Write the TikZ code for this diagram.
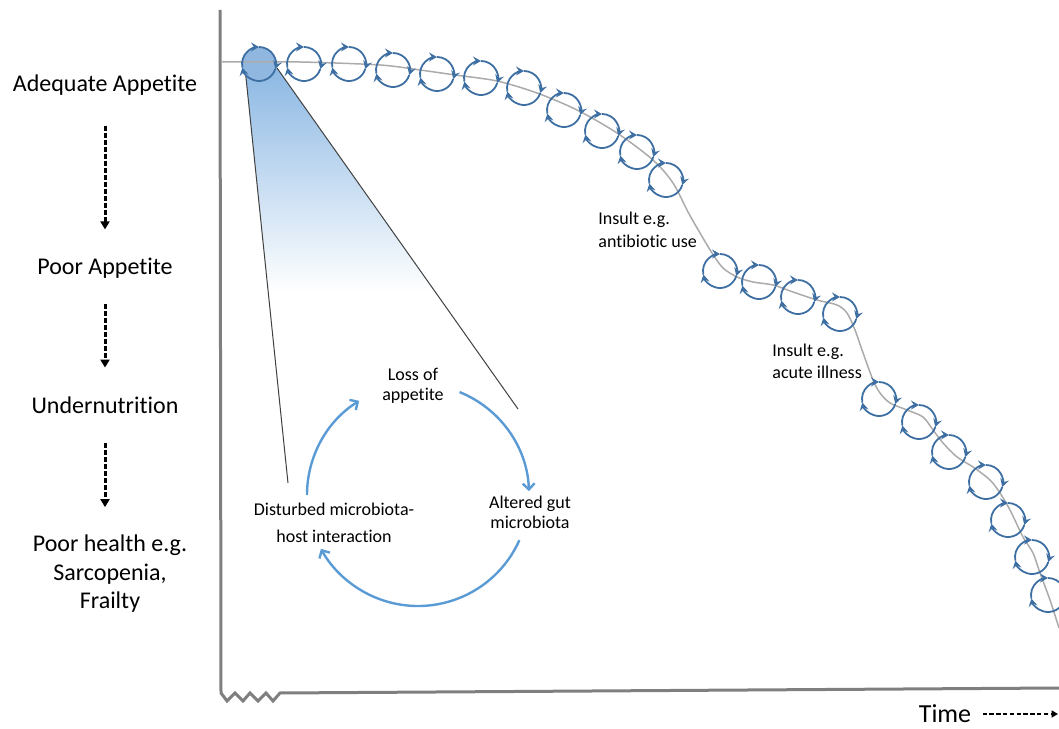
\documentclass[tikz,border=0pt]{standalone}
\usepackage{fontspec}
\setmainfont[Ligatures=NoCommon]{Carlito}
\usetikzlibrary{arrows.meta}
\definecolor{axisgray}{HTML}{7F7F7F}
\definecolor{curvegray}{HTML}{ABABAB}
\definecolor{loopblue}{HTML}{3E6FA3}
\definecolor{cycblue}{HTML}{5B9BD5}
\definecolor{coneblue}{HTML}{8CB8E3}
\definecolor{spotfill}{HTML}{8FB7E0}
\definecolor{conegray}{HTML}{404040}
\pgfdeclareverticalshading{conefade}{100bp}{color(0bp)=(white); color(48bp)=(white); color(75bp)=(coneblue); color(100bp)=(coneblue)}

\begin{document}
\begin{tikzpicture}[x=0.5pt, y=0.5pt,
      lbl/.style={font=\fontsize{12}{14.3}\selectfont, align=center, inner sep=0pt},
      note/.style={font=\fontsize{9}{11.5}\selectfont, align=left, inner sep=0pt, anchor=west},
      cyclbl/.style={font=\fontsize{9}{10}\selectfont, align=center, inner sep=0pt},
      downarr/.style={line width=1.5pt, dash pattern=on 2.5pt off 1pt, -{Triangle[length=4pt,width=4.5pt]}},
      timearr/.style={line width=1pt, dash pattern=on 2.2pt off 1.2pt, -{Triangle[length=3.2pt,width=3.5pt]}},
      axis/.style={axisgray, line width=1.5pt},
      loopline/.style={loopblue, line width=0.9pt, -{Stealth[length=4pt,width=4.5pt,inset=1.5pt]}},
      cycarr/.style={cycblue, line width=1.2pt, -{Straight Barb[length=3pt,width=6pt]}}]
    \useasboundingbox (0,0) rectangle (1059,728);
    % spotlight from the first loop
    \shade[shading=conefade] (245,660) -- (277,660) -- (518,319) -- (288,245) -- cycle;
    \draw[conegray, line width=0.5pt] (245,660) -- (288,245);
    \draw[conegray, line width=0.5pt] (277,660) -- (518,319);
    \fill[spotfill] (259,664) circle[radius=8.5pt];
    % axes
    \draw[axis] (220,718) -- (221,35) -- (227,27) -- (235,35) -- (243,27) -- (250,35) -- (258,27)
      -- (266,35) -- (273,27) -- (280,35) -- (1059,40);
    % trajectory
    \draw[curvegray, line width=0.75pt] plot[smooth, tension=0.5] coordinates {(222,666) (300,666) (380,663)
      (420,658) (455,653) (497,647) (537,635) (577,618) (617,595) (653,568) (673,545) (688,516)
      (700,495) (712,475) (723,460) (737,451) (753,446) (773,443) (793,436) (817,428) (837,423)
      (847,415) (855,398) (862,378) (873,348) (880,335) (890,325) (907,318) (923,311) (933,298)
      (943,285) (957,271) (973,261) (990,248) (1000,235) (1010,218) (1023,191) (1033,175)
      (1040,155) (1050,128) (1059,100)};
    \foreach \cx/\cy in {259/664, 304/664, 349/664, 393/658, 437/654, 481/650, 524/640, 564/618,
        602/597, 637/576, 666/548, 720/457, 759/446, 798/431, 840/414, 879/329, 919/306,
        949/276, 986/246, 1008/208, 1032/171, 1048/133} {
      \draw[loopline] (\cx,\cy) ++(192:8.5pt) arc[start angle=192, end angle=90, radius=8.5pt];
      \draw[loopline] (\cx,\cy) ++(90:8.5pt) arc[start angle=90, end angle=-17, radius=8.5pt];
      \draw[loopline] (\cx,\cy) ++(-17:8.5pt) arc[start angle=-17, end angle=-168, radius=8.5pt];
    }
    \node[note] (insult1) at (598,498.5) {Insult e.g.\\antibiotic use};
    \node[note, font=\fontsize{9}{11}\selectfont] (insult2) at (772,367) {Insult e.g.\\acute illness};
    % vicious cycle
    \coordinate (cyc) at (418,233);
    \node[cyclbl] (loss) at (413,342) {Loss of\\appetite};
    \node[cyclbl] (altered) at (530,216) {Altered gut\\microbiota};
    \node[cyclbl, font=\fontsize{9}{13.5}\selectfont] (disturbed) at (334,205) {Disturbed microbiota-\\host interaction};
    \draw[cycarr] (cyc) ++(180:55.5pt) arc[start angle=180, end angle=122, radius=55.5pt];
    \draw[cycarr] (cyc) ++(68:55.5pt) arc[start angle=68, end angle=2, radius=55.5pt];
    \draw[cycarr] (cyc) ++(-24:55.5pt) arc[start angle=-24, end angle=-151, radius=55.5pt];
    % stages
    \node[lbl] (adq) at (105,643) {Adequate Appetite};
    \node[lbl] (poorapp) at (105,460) {Poor Appetite};
    \node[lbl] (undernut) at (105,323) {Undernutrition};
    \node[lbl] (poorhealth) at (110,154) {Poor health e.g.\\Sarcopenia,\\Frailty};
    \draw[downarr] ([yshift=-15pt]adq.south) -- ([yshift=14pt]poorapp.north);
    \draw[downarr] ([yshift=-12.5pt]poorapp.south) -- ([yshift=14.3pt]undernut.north);
    \draw[downarr] ([yshift=-14.8pt]undernut.south) -- ([yshift=13.8pt]undernut.south |- poorhealth.north);
    \node[lbl, font=\fontsize{13}{15}\selectfont] (timelbl) at (945,14) {Time};
    \coordinate (tend) at (1058,14);
    \draw[timearr] ([xshift=5.5pt]timelbl.east) -- (tend);
  \end{tikzpicture}
\end{document}
